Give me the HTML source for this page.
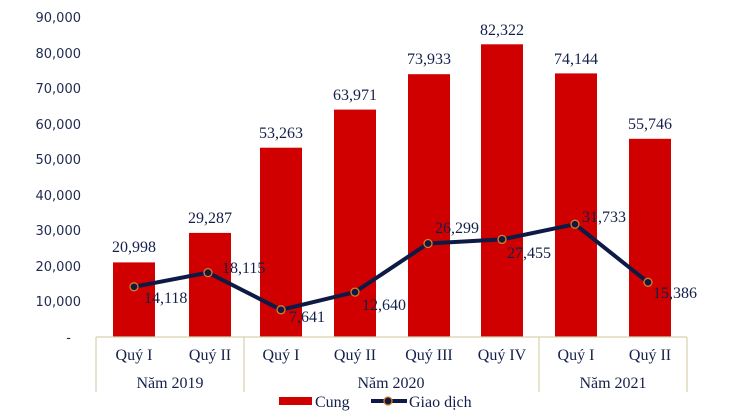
<!DOCTYPE html>
<html><head><meta charset="utf-8"><style>
body{margin:0;background:#fff}
svg{display:block}
.y{font-family:"DejaVu Sans","Liberation Sans",sans-serif;font-size:13px;fill:#1f2a50;text-anchor:end}
.t{font-family:"Liberation Serif",serif;font-size:16px;fill:#14204a}
.m{text-anchor:middle}
</style></head><body>
<svg width="755" height="416" viewBox="0 0 755 416">
<g class="y">
<text x="81" y="22">90,000</text>
<text x="81" y="58">80,000</text>
<text x="81" y="93">70,000</text>
<text x="81" y="129">60,000</text>
<text x="81" y="164">50,000</text>
<text x="81" y="200">40,000</text>
<text x="81" y="235">30,000</text>
<text x="81" y="271">20,000</text>
<text x="81" y="306">10,000</text>
<text x="71" y="342">-</text>
</g>
<g fill="#d00000">
<rect x="113" y="262.4" width="42" height="74.6"/>
<rect x="189" y="232.9" width="42" height="104.1"/>
<rect x="260" y="147.7" width="42" height="189.3"/>
<rect x="334" y="109.6" width="42" height="227.4"/>
<rect x="408" y="74.2" width="42" height="262.8"/>
<rect x="481" y="44.3" width="42" height="292.7"/>
<rect x="555" y="73.4" width="42" height="263.6"/>
<rect x="629" y="138.8" width="42" height="198.2"/>
</g>
<g stroke="#d8d0ae" stroke-width="1.2">
<line x1="96" y1="337" x2="687" y2="337"/>
<line x1="96" y1="337" x2="96" y2="392"/>
<line x1="244" y1="337" x2="244" y2="392"/>
<line x1="539" y1="337" x2="539" y2="392"/>
<line x1="687" y1="337" x2="687" y2="392"/>
</g>
<g class="t m">
<text x="134" y="252">20,998</text>
<text x="210" y="223">29,287</text>
<text x="281" y="138">53,263</text>
<text x="355" y="100">63,971</text>
<text x="429" y="64">73,933</text>
<text x="502" y="35">82,322</text>
<text x="576" y="64">74,144</text>
<text x="650" y="129">55,746</text>
<text x="134" y="360">Quý I</text>
<text x="210" y="360">Quý II</text>
<text x="281" y="360">Quý I</text>
<text x="355" y="360">Quý II</text>
<text x="429" y="360">Quý III</text>
<text x="502" y="360">Quý IV</text>
<text x="576" y="360">Quý I</text>
<text x="650" y="360">Quý II</text>
<text x="170" y="388">Năm 2019</text>
<text x="391" y="388">Năm 2020</text>
<text x="613" y="388">Năm 2021</text>
</g>
<polyline points="134,286.8 208,272.6 281,309.8 355,292.1 428,243.5 502,239.4 575,224.2 648,282.3" fill="none" stroke="#0d1a45" stroke-width="4" stroke-linejoin="round"/>
<g fill="#0d1a45" stroke="#e07a20" stroke-width="1.3">
<circle cx="134" cy="286.8" r="4"/><circle cx="208" cy="272.6" r="4"/><circle cx="281" cy="309.8" r="4"/><circle cx="355" cy="292.1" r="4"/><circle cx="428" cy="243.5" r="4"/><circle cx="502" cy="239.4" r="4"/><circle cx="575" cy="224.2" r="4"/><circle cx="648" cy="282.3" r="4"/>
</g>
<g class="t">
<text x="144" y="303">14,118</text>
<text x="222" y="273">18,115</text>
<text x="289" y="322">7,641</text>
<text x="362" y="310">12,640</text>
<text x="435" y="233">26,299</text>
<text x="507" y="258">27,455</text>
<text x="582" y="222">31,733</text>
<text x="653" y="298">15,386</text>
</g>
<rect x="279" y="397" width="33" height="8" fill="#d00000"/>
<text class="t" x="315" y="407">Cung</text>
<line x1="371" y1="401" x2="407" y2="401" stroke="#0d1a45" stroke-width="4"/>
<circle cx="388" cy="401" r="4" fill="#0d1a45" stroke="#e07a20" stroke-width="1.3"/>
<text class="t" x="409" y="407">Giao dịch</text>
</svg>
</body></html>
